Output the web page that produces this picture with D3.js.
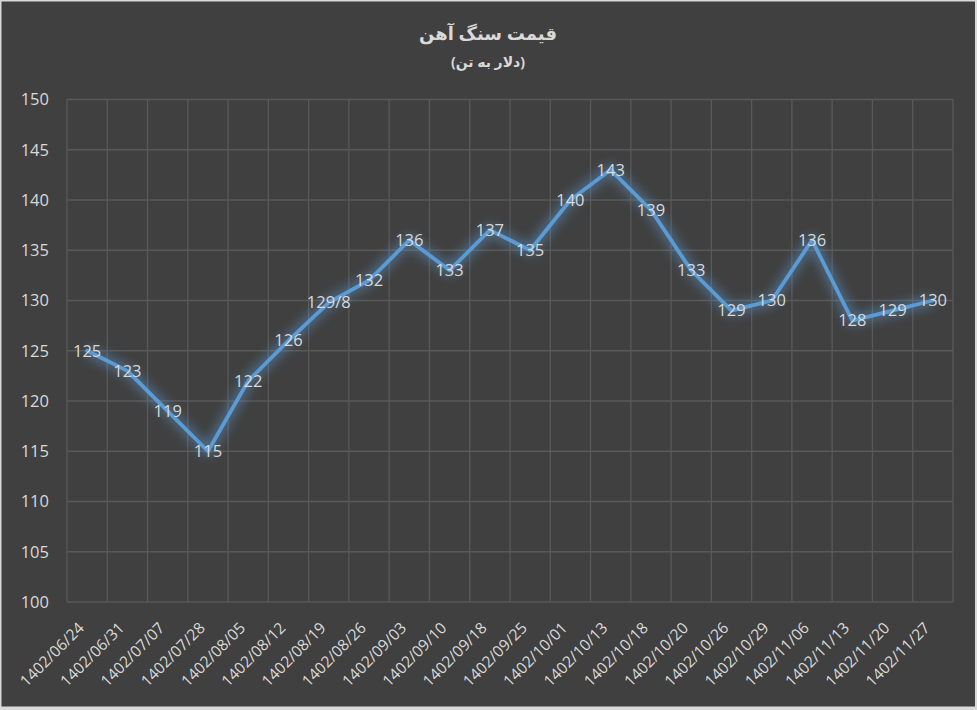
<!DOCTYPE html>
<html><head><meta charset="utf-8">
<script src="https://cdn.jsdelivr.net/npm/d3@7"></script>
<style>
html,body{margin:0;padding:0;background:#404040;}
svg{display:block;}
</style></head>
<body>
<script>
const categories = ["1402/06/24","1402/06/31","1402/07/07","1402/07/28","1402/08/05","1402/08/12","1402/08/19","1402/08/26","1402/09/03","1402/09/10","1402/09/18","1402/09/25","1402/10/01","1402/10/13","1402/10/18","1402/10/20","1402/10/26","1402/10/29","1402/11/06","1402/11/13","1402/11/20","1402/11/27"];
const values = [125,123,119,115,122,126,129.8,132,136,133,137,135,140,143,139,133,129,130,136,128,129,130];
const valueLabels = ["125","123","119","115","122","126","129/8","132","136","133","137","135","140","143","139","133","129","130","136","128","129","130"];
const yTicks = [100,105,110,115,120,125,130,135,140,145,150];
const title = "قیمت سنگ آهن";
const subtitle = "(دلار به تن)";

const W = 977, H = 710;
const margin = {left:67, right:24, top:99.5, bottom:108};
const svg = d3.select("body").append("svg").attr("width",W).attr("height",H);
const font = "'Open Sans','Noto Sans','DejaVu Sans',sans-serif";

svg.append("rect").attr("x",0).attr("y",0).attr("width",W).attr("height",H).attr("fill","#d9d9d9");
svg.append("rect").attr("x",1.5).attr("y",1.5).attr("width",973.5).attr("height",705).attr("fill","#404040");

const defs = svg.append("defs");
const f = defs.append("filter").attr("id","glow").attr("x","-20%").attr("y","-20%").attr("width","140%").attr("height","140%");
f.append("feGaussianBlur").attr("in","SourceGraphic").attr("stdDeviation",5.5).attr("result","b");
f.append("feMerge").call(m=>{m.append("feMergeNode").attr("in","b");});

const x = d3.scaleBand().domain(categories).range([margin.left, W-margin.right]);
const y = d3.scaleLinear().domain([100,150]).range([H-margin.bottom, margin.top]);

const grid = svg.append("g");
grid.selectAll("line.h").data(yTicks).join("line")
  .attr("x1",margin.left).attr("x2",W-margin.right)
  .attr("y1",d=>y(d)).attr("y2",d=>y(d))
  .attr("stroke","#595959").attr("stroke-width",1.3);
const vb = categories.map(c=>x(c)).concat([x(categories[categories.length-1])+x.bandwidth()]);
grid.selectAll("line.v").data(vb).join("line")
  .attr("x1",d=>d).attr("x2",d=>d)
  .attr("y1",y(150)).attr("y2",y(100))
  .attr("stroke","#595959").attr("stroke-width",1.3);

// y axis labels
const yAxis = d3.axisLeft(y).tickValues(yTicks).tickSize(0).tickPadding(18);
const ya = svg.append("g").attr("transform",`translate(${margin.left},0)`).call(yAxis);
ya.select(".domain").remove();
ya.selectAll("text").attr("fill","#d9d9d9").style("font-family",font).style("font-size","16.5px");

// x axis labels
const xAxis = d3.axisBottom(x).tickSize(0).tickPadding(0);
const xa = svg.append("g").attr("transform",`translate(0,${y(100)})`).call(xAxis);
xa.select(".domain").remove();
xa.selectAll("text").attr("fill","#d9d9d9").style("font-family",font).style("font-size","15.6px")
  .attr("text-anchor","end").attr("dy",0).attr("y",0)
  .attr("transform","translate(-2,27) rotate(-45)");

const cx = d => x(d.c) + x.bandwidth()/2;
const pts = categories.map((c,i)=>({c, v:values[i], l:valueLabels[i]}));
const line = d3.line().x(cx).y(d=>y(d.v));

svg.append("path").datum(pts).attr("d",line).attr("fill","none")
  .attr("stroke","#5b9bd5").attr("stroke-width",10).attr("stroke-opacity",0.5)
  .attr("stroke-linejoin","round").attr("filter","url(#glow)");
svg.append("path").datum(pts).attr("d",line).attr("fill","none")
  .attr("stroke","#5b9bd5").attr("stroke-width",3.8).attr("stroke-linejoin","round").attr("stroke-linecap","round");

svg.append("g").selectAll("text").data(pts).join("text")
  .attr("x",cx).attr("y",d=>y(d.v)).attr("dy","0.35em")
  .attr("text-anchor","middle").attr("fill","#d9d9d9")
  .style("font-family",font).style("font-size","16.5px")
  .text(d=>d.l);

svg.append("text").attr("x",488).attr("y",40).attr("text-anchor","middle")
  .attr("fill","#d9d9d9").style("font-family","'Noto Sans','DejaVu Sans',sans-serif").style("font-weight","bold").style("font-size","18px")
  .attr("direction","rtl").text(title);
svg.append("text").attr("x",488).attr("y",67).attr("text-anchor","middle")
  .attr("fill","#d9d9d9").style("font-family","'Noto Sans','DejaVu Sans',sans-serif").style("font-weight","bold").style("font-size","14px")
  .attr("direction","rtl").text(subtitle);
</script>
</body></html>
